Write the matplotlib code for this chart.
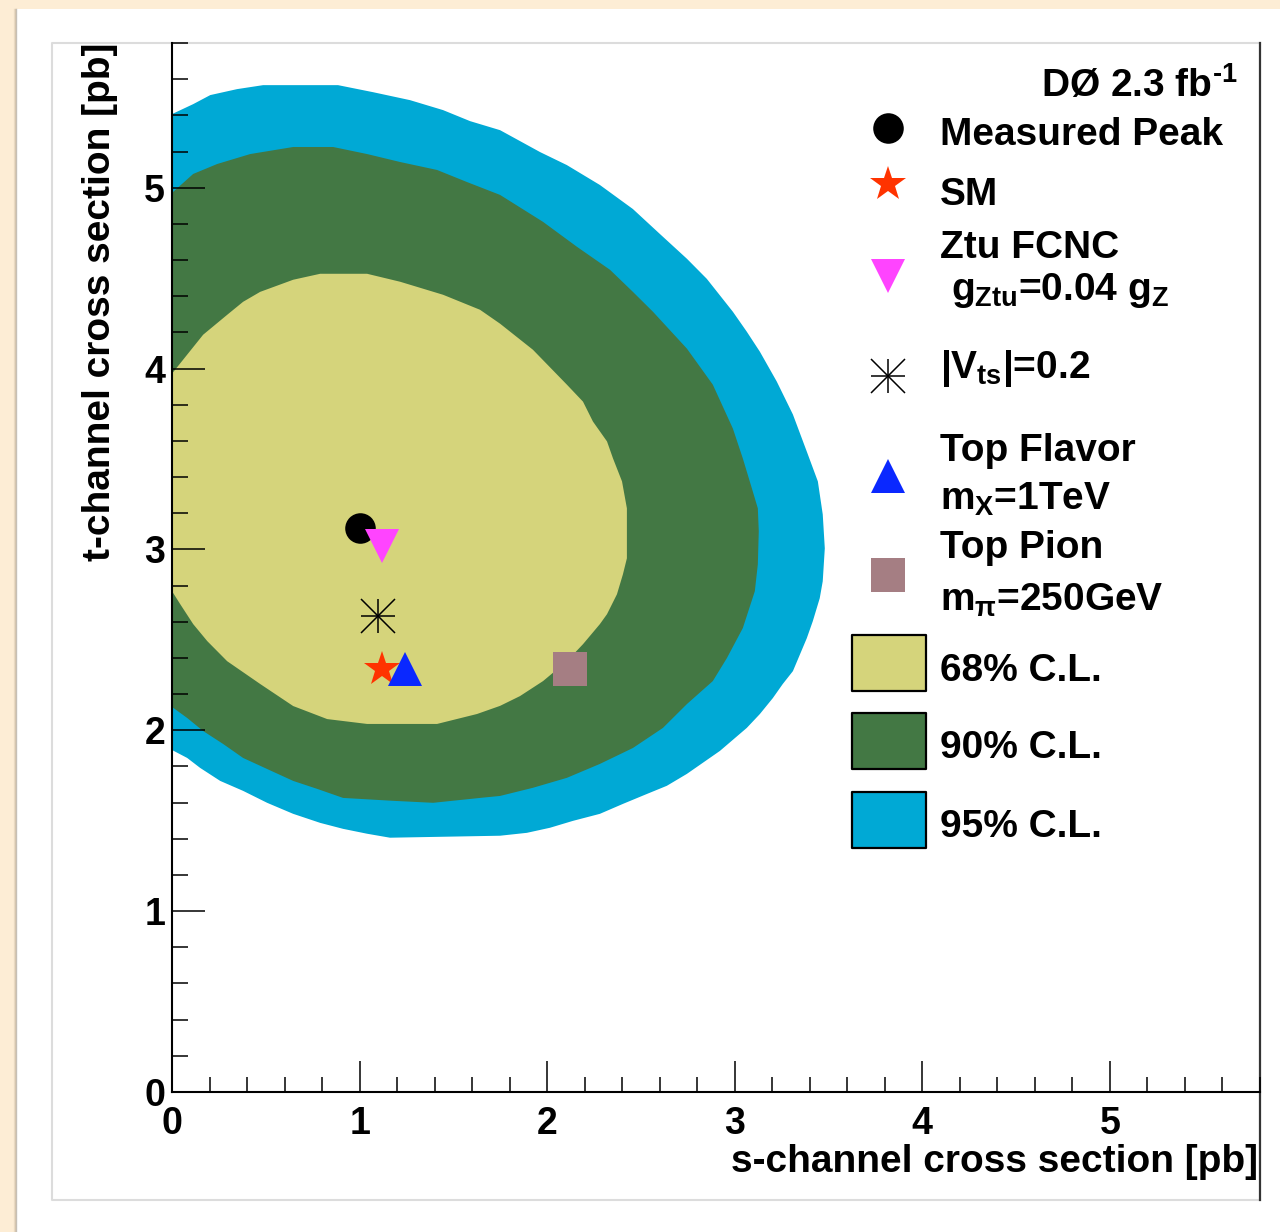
import matplotlib.pyplot as plt
from matplotlib.patches import Rectangle
from matplotlib.ticker import MultipleLocator

plt.rcParams['font.family'] = ['Liberation Sans', 'DejaVu Sans']
plt.rcParams['font.weight'] = 'bold'
plt.rcParams['mathtext.fontset'] = 'custom'
plt.rcParams['mathtext.rm'] = 'Liberation Sans:bold'
plt.rcParams['mathtext.it'] = 'Liberation Sans:bold'
plt.rcParams['mathtext.bf'] = 'Liberation Sans:bold'
plt.rcParams['mathtext.sf'] = 'Liberation Sans:bold'

# confidence-level outlines, (s-channel, t-channel) in pb, clockwise from the left edge
cl95_s = [0.0, 0.113, 0.204, 0.347, 0.486, 0.885, 1.072, 1.269, 1.445, 1.589, 1.749, 1.962,
          2.105, 2.281, 2.457, 2.601, 2.745, 2.851, 2.990, 3.064, 3.134, 3.224, 3.310, 3.384,
          3.443, 3.469, 3.480, 3.469, 3.453, 3.416, 3.384, 3.310, 3.256, 3.203, 3.134, 3.064,
          2.921, 2.745, 2.638, 2.532, 2.404, 2.281, 2.137, 2.015, 1.892, 1.749, 1.162, 1.040,
          0.912, 0.790, 0.646, 0.507, 0.379, 0.257, 0.150, 0.081, 0.0]
cl95_t = [5.407, 5.462, 5.512, 5.545, 5.567, 5.567, 5.528, 5.484, 5.429, 5.368, 5.318, 5.197,
          5.125, 5.015, 4.882, 4.744, 4.607, 4.496, 4.314, 4.204, 4.093, 3.928, 3.746, 3.541,
          3.376, 3.194, 3.006, 2.824, 2.730, 2.603, 2.509, 2.327, 2.256, 2.178, 2.090, 2.013,
          1.886, 1.759, 1.693, 1.648, 1.593, 1.538, 1.499, 1.461, 1.433, 1.417, 1.406, 1.428,
          1.455, 1.488, 1.538, 1.599, 1.665, 1.720, 1.792, 1.847, 1.891]

cl90_s = [0.0, 0.113, 0.241, 0.417, 0.646, 0.859, 1.040, 1.216, 1.413, 1.573, 1.749, 1.978,
          2.159, 2.335, 2.457, 2.564, 2.745, 2.883, 2.990, 3.043, 3.096, 3.123, 3.128, 3.123,
          3.107, 3.043, 2.958, 2.883, 2.745, 2.617, 2.457, 2.281, 2.105, 1.924, 1.749, 1.642,
          1.392, 1.178, 0.912, 0.774, 0.646, 0.507, 0.379, 0.273, 0.166, 0.081, 0.0]
cl90_t = [4.971, 5.076, 5.131, 5.186, 5.225, 5.225, 5.186, 5.142, 5.098, 5.031, 4.960, 4.811,
          4.673, 4.546, 4.424, 4.314, 4.110, 3.911, 3.668, 3.503, 3.321, 3.227, 3.100, 2.918,
          2.769, 2.565, 2.399, 2.272, 2.145, 2.013, 1.902, 1.814, 1.737, 1.682, 1.637, 1.626,
          1.599, 1.610, 1.626, 1.676, 1.720, 1.786, 1.847, 1.924, 1.996, 2.068, 2.129]

cl68_s = [0.0, 0.081, 0.166, 0.294, 0.379, 0.470, 0.646, 0.790, 1.040, 1.216, 1.445, 1.642,
          1.749, 1.924, 2.105, 2.191, 2.244, 2.319, 2.351, 2.399, 2.425, 2.425, 2.404, 2.372,
          2.319, 2.281, 2.191, 2.105, 1.978, 1.855, 1.749, 1.626, 1.413, 1.040, 0.827, 0.646,
          0.470, 0.294, 0.188, 0.113, 0.044, 0.0]
cl68_t = [3.972, 4.077, 4.187, 4.297, 4.369, 4.424, 4.491, 4.524, 4.524, 4.480, 4.408, 4.325,
          4.248, 4.104, 3.911, 3.817, 3.707, 3.597, 3.503, 3.376, 3.227, 2.951, 2.863, 2.752,
          2.642, 2.587, 2.476, 2.382, 2.272, 2.189, 2.135, 2.090, 2.035, 2.035, 2.062, 2.134,
          2.256, 2.382, 2.493, 2.587, 2.697, 2.769]

# measured peak and model predictions (s, t) in pb
peak = (1.00, 3.12)
sm = (1.12, 2.34)
fcnc = (1.12, 3.02)
vts = (1.10, 2.63)
top_flavor = (1.24, 2.34)
top_pion = (2.12, 2.34)

c68, c90, c95 = '#d5d47b', '#437844', '#00a9d5'
c_sm, c_fcnc, c_flav, c_pion = '#ff3300', '#ff44ff', '#0a28ff', '#a57e83'

fig = plt.figure(figsize=(12.8, 12.32), dpi=100, facecolor='#fdedd5')

# page background and canvas frame, in pixel units
bg = fig.add_axes([0, 0, 1, 1], zorder=0)
bg.set_xlim(0, 1280)
bg.set_ylim(1232, 0)
bg.axis('off')
bg.add_patch(Rectangle((16, 9), 1264, 1223, facecolor='white', edgecolor='none'))
for i, a in enumerate([0.45, 0.25, 0.12]):
    bg.plot([15.5 - i, 15.5 - i], [9, 1232], color='#8a7a66', alpha=a, lw=1)
bg.plot([1260, 52, 52, 1260], [43, 43, 1200, 1200], color='#dcdcdc', lw=1.5)
bg.plot([1260, 1260], [43, 1200], color='#333333', lw=1.6)

ax = fig.add_axes([172 / 1280, 1 - 1092 / 1232, 1088 / 1280, 1049 / 1232], zorder=1)
ax.set_facecolor('none')

ax.fill(cl95_s, cl95_t, color=c95, lw=0, zorder=1)
ax.fill(cl90_s, cl90_t, color=c90, lw=0, zorder=1)
ax.fill(cl68_s, cl68_t, color=c68, lw=0, zorder=1)

ax.plot(*peak, 'o', color='black', ms=22, mew=0, zorder=3)
ax.plot(*fcnc, 'v', color=c_fcnc, ms=25, mew=0, zorder=3)
ax.plot(*vts, '+', color='black', ms=25, mew=1.1, zorder=3)
ax.plot(*vts, 'x', color='black', ms=25, mew=1.1, zorder=3)
ax.plot(*sm, '*', color=c_sm, ms=26.5, mew=0, zorder=3)
ax.plot(*top_flavor, '^', color=c_flav, ms=25, mew=0, zorder=3)
ax.plot(*top_pion, 's', color=c_pion, ms=25, mew=0, zorder=3)

ax.set_xlim(0, 5.8)
ax.set_ylim(0, 5.8)
ax.xaxis.set_major_locator(MultipleLocator(1))
ax.xaxis.set_minor_locator(MultipleLocator(0.2))
ax.yaxis.set_major_locator(MultipleLocator(1))
ax.yaxis.set_minor_locator(MultipleLocator(0.2))
ax.tick_params(which='both', direction='in', top=False, right=False, width=1.1, labelsize=27)
ax.tick_params(axis='x', which='major', length=22, pad=10)
ax.tick_params(axis='x', which='minor', length=11)
ax.tick_params(axis='y', which='major', length=24, pad=5)
ax.tick_params(axis='y', which='minor', length=11.5)
for lab in ax.get_xticklabels() + ax.get_yticklabels():
    lab.set_fontweight('bold')
for side in ['top', 'right']:
    ax.spines[side].set_visible(False)
for side in ['left', 'bottom']:
    ax.spines[side].set_linewidth(1.5)

fig.text(1258 / 1280, 1 - 1172 / 1232, 's-channel cross section [pb]',
         ha='right', va='baseline', fontsize=28, fontweight='bold')
fig.text(100 / 1280, 1 - 43 / 1232, 't-channel cross section [pb]',
         ha='center', va='top', rotation=90, fontsize=28, fontweight='bold')

# legend
fs = 28
tx, mx = 0.706, 0.658
T = ax.transAxes
ax.text(0.979, 0.949, r'DØ 2.3 fb$^{\text{-1}}$', transform=T, ha='right', va='baseline', fontsize=fs)
ax.text(tx, 0.903, 'Measured Peak', transform=T, va='baseline', fontsize=fs)
ax.text(tx, 0.846, 'SM', transform=T, va='baseline', fontsize=fs)
ax.text(tx, 0.795, 'Ztu FCNC', transform=T, va='baseline', fontsize=fs)
ax.text(0.716, 0.755, r'$g_{Ztu}$=0.04 $g_{Z}$', transform=T, va='baseline', fontsize=fs)
ax.text(tx, 0.681, r'$|V_{ts}|$=0.2', transform=T, va='baseline', fontsize=fs)
ax.text(tx, 0.602, 'Top Flavor', transform=T, va='baseline', fontsize=fs)
ax.text(tx, 0.555, r'$m_{X}$=1TeV', transform=T, va='baseline', fontsize=fs)
ax.text(tx, 0.509, 'Top Pion', transform=T, va='baseline', fontsize=fs)
ax.text(tx, 0.459, r'$m_{π}$=250GeV', transform=T, va='baseline', fontsize=fs)

kw = dict(transform=T, clip_on=False, zorder=4)
ax.plot(mx, 0.919, 'o', color='black', ms=22, mew=0, **kw)
ax.plot(mx, 0.866, '*', color=c_sm, ms=26.5, mew=0, **kw)
ax.plot(mx, 0.778, 'v', color=c_fcnc, ms=25, mew=0, **kw)
ax.plot(mx, 0.683, '+', color='black', ms=25, mew=1.1, **kw)
ax.plot(mx, 0.683, 'x', color='black', ms=25, mew=1.1, **kw)
ax.plot(mx, 0.587, '^', color=c_flav, ms=25, mew=0, **kw)
ax.plot(mx, 0.493, 's', color=c_pion, ms=25, mew=0, **kw)

for ybox, ytxt, col, lab in [(0.382, 0.392, c68, '68% C.L.'),
                             (0.308, 0.318, c90, '90% C.L.'),
                             (0.233, 0.243, c95, '95% C.L.')]:
    ax.add_patch(Rectangle((0.625, ybox), 0.068, 0.0534, transform=T, facecolor=col,
                           edgecolor='black', lw=1.6, joinstyle='round', clip_on=False, zorder=4))
    ax.text(tx, ytxt, lab, transform=T, va='baseline', fontsize=fs)

fig.savefig('out.png', dpi=100, facecolor=fig.get_facecolor())
